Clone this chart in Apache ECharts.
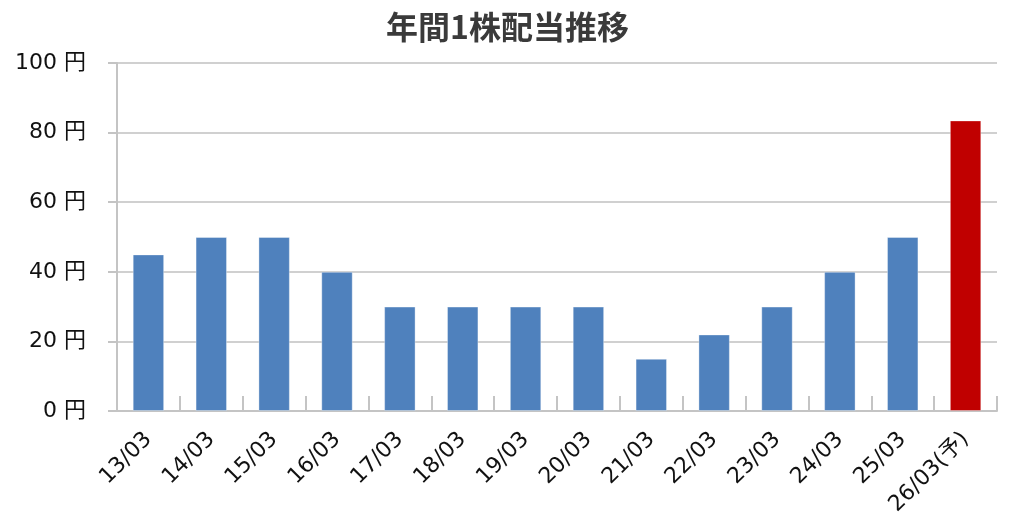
<!DOCTYPE html>
<html>
<head>
<meta charset="utf-8">
<script src="https://cdn.jsdelivr.net/npm/echarts@6/dist/echarts.min.js"></script>
<style>
html,body{margin:0;padding:0;background:#fff;}
#c{width:1024px;height:526px;}
</style>
</head>
<body>
<div id="c"></div>
<script>
const titleText = '年間1株配当推移';
const categories = ['13/03','14/03','15/03','16/03','17/03','18/03','19/03','20/03','21/03','22/03','23/03','24/03','25/03','26/03(予)'];
const dividends = [45, 50, 50, 40, 30, 30, 30, 30, 15, 22, 30, 40, 50, 83.5];
const isForecast = [false,false,false,false,false,false,false,false,false,false,false,false,false,true];
const yTicks = [0, 20, 40, 60, 80, 100];
const yUnit = ' 円';

const TFONT = '"Noto Sans CJK JP", "Noto Sans", sans-serif';
const LFONT = '"DejaVu Sans", "Noto Sans CJK JP", sans-serif';
const chart = echarts.init(document.getElementById('c'));
chart.setOption({
  animation: false,
  backgroundColor: '#ffffff',
  title: {
    text: titleText,
    left: 381,
    top: 6,
    textStyle: { fontFamily: TFONT, fontSize: 32, fontWeight: 'bold', color: '#3a3a3a' }
  },
  grid: { left: 117, right: 27, top: 63, bottom: 115, containLabel: false },
  xAxis: {
    type: 'category',
    data: categories,
    axisLine: { show: true, lineStyle: { color: '#c4c4c4', width: 2 } },
    axisTick: { show: true, inside: true, length: 15, lineStyle: { color: '#c4c4c4', width: 2 } },
    axisLabel: { rotate: 45, interval: 0, margin: 25, fontFamily: LFONT, fontSize: 22, color: '#111' },
    splitLine: { show: false }
  },
  yAxis: {
    type: 'value',
    min: yTicks[0],
    max: yTicks[yTicks.length - 1],
    interval: yTicks[1] - yTicks[0],
    axisLine: { show: true, lineStyle: { color: '#c4c4c4', width: 2 } },
    axisTick: { show: true, length: 9, lineStyle: { color: '#c4c4c4', width: 2 } },
    axisLabel: { formatter: v => v + yUnit, margin: 31, fontFamily: LFONT, fontSize: 22, color: '#111' },
    splitLine: { show: true, lineStyle: { color: '#d0d0d0', width: 2 } }
  },
  series: [{
    type: 'bar',
    data: dividends,
    barCategoryGap: '50%',
    itemStyle: {
      color: p => isForecast[p.dataIndex] ? '#C00000' : '#4F81BD',
      borderColor: 'rgba(255,255,255,0.35)',
      borderWidth: 1
    }
  }]
});
</script>
</body>
</html>
